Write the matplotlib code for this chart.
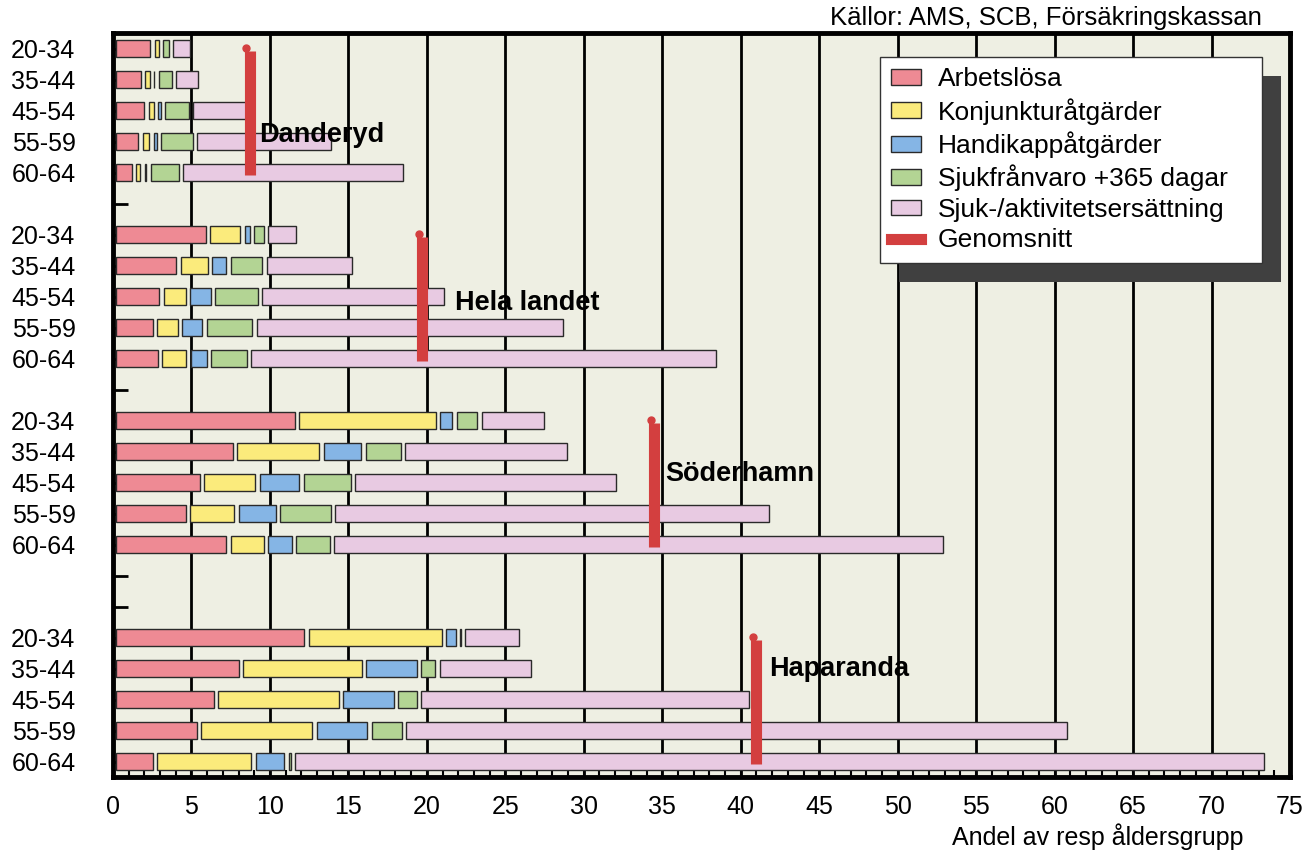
import matplotlib
matplotlib.use("Agg")
import matplotlib.pyplot as plt
from matplotlib.lines import Line2D
from matplotlib.patches import Patch, Rectangle
from matplotlib.ticker import MultipleLocator
from matplotlib.transforms import IdentityTransform

plt.rcParams['font.family'] = ['Liberation Sans', 'DejaVu Sans']

kommuner = ["Danderyd", "Hela landet", "Söderhamn", "Haparanda"]
aldrar = ["20-34", "35-44", "45-54", "55-59", "60-64"]

# andel per åldersgrupp, fem rader per kommun i ordningen ovan
arbetslosa = [2.18, 1.59, 1.80, 1.40, 1.00,
              5.70, 3.84, 2.75, 2.33, 2.65,
              11.38, 7.42, 5.32, 4.43, 7.01,
              11.99, 7.82, 6.23, 5.13, 2.33]
konjunktur = [0.25, 0.26, 0.31, 0.43, 0.27,
              1.92, 1.73, 1.40, 1.32, 1.53,
              8.72, 5.24, 3.26, 2.81, 2.12,
              8.48, 7.56, 7.67, 7.10, 6.01]
handikapp = [0.00, 0.03, 0.17, 0.19, 0.08,
             0.34, 0.88, 1.32, 1.29, 1.04,
             0.76, 2.40, 2.52, 2.39, 1.50,
             0.60, 3.20, 3.22, 3.21, 1.82]
sjukfranvaro = [0.38, 0.83, 1.50, 2.01, 1.80,
                0.60, 2.02, 2.72, 2.90, 2.26,
                1.32, 2.23, 3.01, 3.22, 2.14,
                0.05, 0.93, 1.21, 1.91, 0.14]
sjukersattning = [1.06, 1.40, 3.35, 8.56, 14.00,
                  1.81, 5.41, 11.56, 19.53, 29.64,
                  3.98, 10.30, 16.60, 27.60, 38.80,
                  3.41, 5.80, 20.90, 42.10, 61.70]
genomsnitt = [8.7, 19.7, 34.5, 40.95]

serier = ["Arbetslösa", "Konjunkturåtgärder", "Handikappåtgärder",
          "Sjukfrånvaro +365 dagar", "Sjuk-/aktivitetsersättning"]
varden = [arbetslosa, konjunktur, handikapp, sjukfranvaro, sjukersattning]
farger = ["#ee8a94", "#fbeb7c", "#85b5e5", "#b3d494", "#e8cae2"]
rod = "#d33f3f"

# första raden för varje kommun, tomrader emellan
grupp_start = [0, 6, 12, 19]
n_rader = 24
etikett_x = [9.3, 21.8, 35.2, 41.8]
etikett_rad = [2.78, 8.2, 13.73, 20.0]

start = 0.2
mellanrum = 0.28

fig = plt.figure(figsize=(13.16, 8.52), dpi=100)
ax = fig.add_axes([113 / 1316, 1 - 777 / 852, 1177 / 1316, 744 / 852])
ax.set_facecolor("#eeefe3")
ax.set_axisbelow(True)

for g, forsta in enumerate(grupp_start):
    for a in range(len(aldrar)):
        rad = forsta + a
        left = start
        for s, serie in enumerate(varden):
            w = serie[g * 5 + a]
            if w <= 0:
                continue
            ax.barh(rad, w, left=left, height=0.54, color=farger[s],
                    edgecolor="#2a2a2a", linewidth=1.0, zorder=3)
            left += w + mellanrum

    # genomsnittslinje
    snitt = genomsnitt[g]
    ax.plot([snitt, snitt], [forsta + 0.08, forsta + 4.08], color=rod, lw=8,
            solid_capstyle="butt", zorder=4)
    ax.plot(snitt - 0.2, forsta - 0.03, "o", ms=5, color=rod, zorder=4)
    ax.text(etikett_x[g], etikett_rad[g], kommuner[g], fontsize=19.5,
            fontweight="bold", ha="left", va="center", zorder=5)

ytick_labels = [""] * n_rader
for forsta in grupp_start:
    for a, lab in enumerate(aldrar):
        ytick_labels[forsta + a] = lab

ax.set_ylim(n_rader - 0.5, -0.5)
ax.set_yticks(range(n_rader))
ax.set_yticklabels(ytick_labels)
ax.set_xlim(0, 75)
ax.set_xticks(range(0, 76, 5))
ax.xaxis.set_minor_locator(MultipleLocator(1))

ax.tick_params(axis="y", direction="in", length=11, width=2, pad=27, labelsize=18)
ax.tick_params(axis="x", which="both", direction="in", length=5, width=1.5,
               pad=13, labelsize=18)
ax.grid(axis="x", which="major", color="black", lw=2.0)
for sp in ax.spines.values():
    sp.set_linewidth(3.5)

handles = [Patch(facecolor=c, edgecolor="#2a2a2a", lw=1) for c in farger]
handles.append(Line2D([], [], color=rod, lw=8))
labels = serier + ["Genomsnitt"]
leg = ax.legend(handles, labels, loc="upper left",
                bbox_to_anchor=(0.6517, 0.768, 0.3245, 0.2), mode="expand",
                fontsize=19, frameon=True, fancybox=False, framealpha=1,
                edgecolor="#333333", borderaxespad=0, handlelength=1.15,
                handleheight=0.55, labelspacing=0.25, handletextpad=0.65,
                borderpad=0.4)
leg.get_frame().set_linewidth(1)
leg.set_zorder(6)

fig.text(1262 / 1316, 1 - 18 / 852, "Källor: AMS, SCB, Försäkringskassan",
         ha="right", va="center", fontsize=18.5)
fig.text(1243 / 1316, 1 - 837 / 852, "Andel av resp åldersgrupp",
         ha="right", va="center", fontsize=18)

# skugga bakom teckenförklaringen
fig.canvas.draw()
bb = leg.get_window_extent()
skugga = Rectangle((bb.x0 + 19, bb.y0 - 19), bb.width, bb.height,
                   transform=IdentityTransform(), facecolor="#404040",
                   edgecolor="none", zorder=5.5)
ax.add_artist(skugga)

fig.savefig("out.png", dpi=100)
plt.close(fig)
